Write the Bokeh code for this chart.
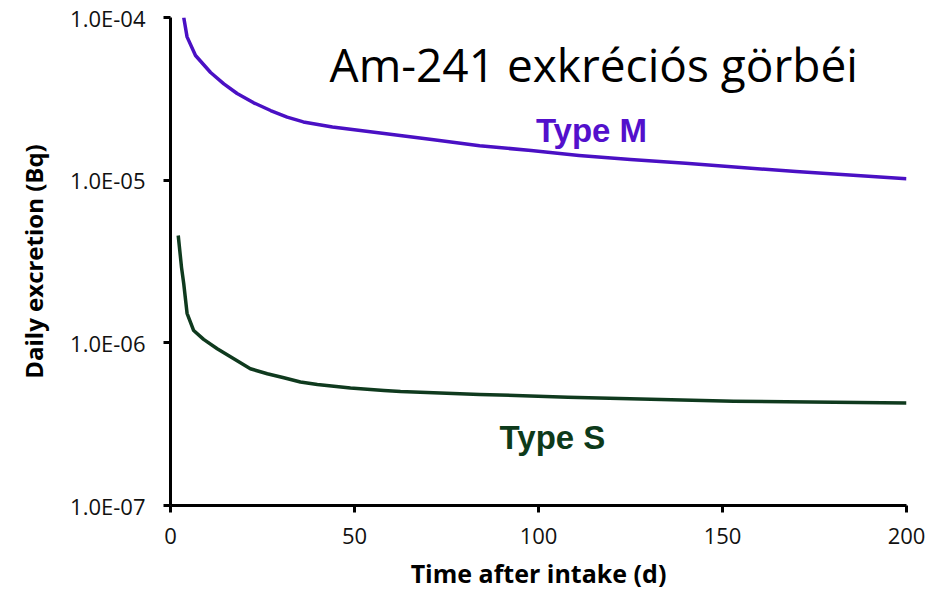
from bokeh.plotting import figure
from bokeh.models import Range1d, FixedTicker, CustomJSTickFormatter, Label
from bokeh.embed import file_html
from bokeh.resources import INLINE

# ---- data ----
days_m = [3.6, 4.5, 6.8, 10.9, 14.5, 18.1, 22.6, 27.2, 31.7, 36.1, 44, 57, 71, 84, 98,
          111, 125, 140, 170, 200]
vals_m = [1.0e-4, 7.6e-5, 5.84e-5, 4.59e-5, 3.91e-5, 3.41e-5, 2.99e-5, 2.68e-5, 2.44e-5,
          2.28e-5, 2.12e-5, 1.95e-5, 1.78e-5, 1.63e-5, 1.52e-5, 1.42e-5, 1.34e-5, 1.27e-5,
          1.13e-5, 1.02e-5]
days_s = [2.1, 3.0, 3.6, 4.5, 6.3, 9, 12.7, 17.2, 21.7, 26.3, 30.8, 35.3, 39.9, 48.9, 58,
          62.5, 84, 108, 153, 200]
vals_s = [4.57e-6, 2.9e-6, 2.31e-6, 1.52e-6, 1.19e-6, 1.05e-6, 9.2e-7, 7.98e-7, 6.93e-7,
          6.46e-7, 6.1e-7, 5.74e-7, 5.55e-7, 5.27e-7, 5.1e-7, 5.02e-7, 4.82e-7, 4.63e-7,
          4.38e-7, 4.26e-7]
x_ticks = [0, 50, 100, 150, 200]
y_ticks = [1e-7, 1e-6, 1e-5, 1e-4]
y_tick_labels = ["1.0E-07", "1.0E-06", "1.0E-05", "1.0E-04"]
title_text = "Am-241 exkréciós görbéi"
label_m = "Type M"
label_s = "Type S"
x_label = "Time after intake (d)"
y_label = "Daily excretion (Bq)"

NARROW = "'Liberation Sans Narrow', 'Open Sans', sans-serif"
ARIAL = "'Liberation Sans', Arial, sans-serif"

p = figure(width=938, height=593, output_backend="svg", toolbar_location=None,
           x_range=Range1d(0, 200), y_range=Range1d(1e-7, 1e-4), y_axis_type="log",
           min_border_left=170, min_border_right=32, min_border_top=17, min_border_bottom=88)
p.outline_line_color = None
p.xgrid.visible = False
p.ygrid.visible = False
p.background_fill_color = "white"
p.border_fill_color = "white"

p.line(days_m, vals_m, line_color="#4A10C4", line_width=3.5, line_join="round")
p.line(days_s, vals_s, line_color="#0F3A1E", line_width=3.5, line_join="round")

for ax in (p.xaxis[0], p.yaxis[0]):
    ax.axis_line_width = 3
    ax.axis_line_color = "black"
    ax.major_tick_line_width = 3
    ax.major_tick_line_color = "black"
    ax.major_tick_out = 7
    ax.major_tick_in = 0
    ax.minor_tick_line_color = None
    ax.major_label_text_font = NARROW
    ax.major_label_text_font_size = "22px"
    ax.major_label_text_color = "#111111"
    ax.axis_label_text_font = NARROW
    ax.axis_label_text_font_style = "bold"
    ax.axis_label_text_color = "black"

p.xaxis.axis_label_text_font_size = "25px"
p.yaxis.axis_label_text_font_size = "24px"
p.xaxis.ticker = FixedTicker(ticks=x_ticks)
p.yaxis.ticker = FixedTicker(ticks=y_ticks)
p.yaxis.formatter = CustomJSTickFormatter(args=dict(vals=y_ticks, labs=y_tick_labels), code="""
    for (let i = 0; i < vals.length; i++) {
        if (Math.abs(Math.log10(tick) - Math.log10(vals[i])) < 1e-6) return labs[i];
    }
    return "";
""")
p.xaxis.major_label_standoff = 15
p.yaxis.major_label_standoff = 18
p.xaxis.axis_label = x_label
p.yaxis.axis_label = y_label
p.xaxis.axis_label_standoff = 9
p.yaxis.axis_label_standoff = 17

p.add_layout(Label(x=115, y=5.2e-5, text=title_text, text_align="center", text_baseline="middle",
                   text_font=NARROW, text_font_size="46px", text_color="black"))
p.add_layout(Label(x=114.4, y=2.02e-5, text=label_m, text_align="center", text_baseline="middle",
                   text_font=ARIAL, text_font_style="bold",
                   text_font_size="33px", text_color="#5310CC"))
p.add_layout(Label(x=103.8, y=2.62e-7, text=label_s, text_align="center", text_baseline="middle",
                   text_font=ARIAL, text_font_style="bold",
                   text_font_size="33px", text_color="#0D3A1A"))

open("out.html", "w").write(file_html(p, INLINE))
